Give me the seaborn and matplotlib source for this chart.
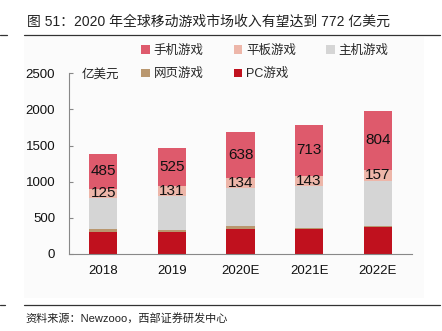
import numpy as np
import pandas as pd
import matplotlib
matplotlib.use("Agg")
import matplotlib.pyplot as plt
from matplotlib.patches import Patch, Rectangle
from matplotlib.lines import Line2D
import seaborn as sns

# ---- data ----
years = ["2018", "2019", "2020E", "2021E", "2022E"]
mobile = [485, 525, 638, 713, 804]      # 手机游戏
tablet = [125, 131, 134, 143, 157]      # 平板游戏
console = [435, 475, 530, 570, 625]     # 主机游戏
browser = [37, 30, 38, 20, 18]          # 网页游戏
pc = [304, 300, 345, 345, 369]          # PC游戏
series_names = ["手机游戏", "平板游戏", "主机游戏", "网页游戏", "PC游戏"]
yticks = [0, 500, 1000, 1500, 2000, 2500]

colors = {"手机游戏": "#DE5A6C", "平板游戏": "#EDB6A9", "主机游戏": "#D5D5D5",
          "网页游戏": "#B9976F", "PC游戏": "#C0111E"}

sns.set_theme(style="white")
plt.rcParams["font.family"] = ["Liberation Sans", "Noto Sans CJK SC", "DejaVu Sans"]
cjk = ["Noto Sans CJK SC", "DejaVu Sans"]
mixed = ["Liberation Sans", "Noto Sans CJK SC", "DejaVu Sans"]

fig = plt.figure(figsize=(4.42, 3.31), dpi=100)
fig.patch.set_facecolor("white")
# faint panel
fig.add_artist(Rectangle((24 / 442, 1 - 298 / 331), 400 / 442, 261 / 331,
                         transform=fig.transFigure, facecolor="#fbfbfb",
                         edgecolor="none", zorder=-10))

ax = fig.add_axes([69 / 442, 1 - 254 / 331, 343 / 442, (254 - 73.3) / 331])
ax.set_facecolor("none")
ax.set_zorder(2)

# stacked via cumulative sums, bottom-up order: PC, 网页, 主机, 平板, 手机
layers = [("PC游戏", pc), ("网页游戏", browser), ("主机游戏", console),
          ("平板游戏", tablet), ("手机游戏", mobile)]
cum = np.zeros(len(years))
cums = []
for name, vals in layers:
    bottom = cum.copy()
    cum = cum + np.array(vals)
    cums.append((name, bottom, cum.copy()))

for name, bottom, top in reversed(cums):
    df = pd.DataFrame({"year": years, "value": top})
    sns.barplot(data=df, x="year", y="value", color=colors[name], width=0.41,
                ax=ax, saturation=1, linewidth=0, zorder=2)

# labels for 平板 and 手机
for name, bottom, top in cums:
    if name in ("平板游戏", "手机游戏"):
        for i in range(len(years)):
            ax.text(i, (bottom[i] + top[i]) / 2, f"{int(round(top[i] - bottom[i]))}",
                    ha="center", va="center", fontsize=11, color="#111111",
                    family=mixed, zorder=5)

ax.set_ylim(0, 2500)
ax.set_xlim(-0.5, len(years) - 0.5)
ax.set_yticks(yticks)
ax.set_yticklabels([str(v) for v in yticks], fontsize=9.5, color="#111111")
ax.set_xticks(range(len(years)))
ax.set_xticklabels(years, fontsize=9.5, color="#111111")
ax.set_xlabel("")
ax.set_ylabel("")
ax.set_xticks(np.arange(-0.5, len(years), 1.0), minor=True)
ax.tick_params(axis="x", which="major", length=0, pad=8)
ax.tick_params(axis="x", which="minor", direction="in", length=3, color="#888888", width=0.8)
ax.tick_params(axis="y", which="major", direction="in", length=3, color="#888888",
               width=0.8, pad=10, left=True)
for s in ["top", "right"]:
    ax.spines[s].set_visible(False)
for s in ["left", "bottom"]:
    ax.spines[s].set_color("#888888")
    ax.spines[s].set_linewidth(0.8)

fig.text(82 / 442, 1 - 74 / 331, "亿美元", fontsize=9, family=cjk, va="center",
         ha="left", color="#222222")

# legend (row-major look with ncol=3)
order = ["手机游戏", "网页游戏", "平板游戏", "PC游戏", "主机游戏"]
handles = [Patch(facecolor=colors[n], edgecolor="none") for n in order]
fig.legend(handles, order, ncol=3, loc="upper left",
           bbox_to_anchor=(136 / 442, 1 - 40 / 331), frameon=False,
           prop={"family": mixed, "size": 9}, handlelength=0.7, handleheight=0.7,
           handletextpad=0.3, columnspacing=2.4, labelspacing=0.9, borderaxespad=0)

# title, rules, source
fig.text(27 / 442, 1 - 22 / 331, "图 51：2020 年全球移动游戏市场收入有望达到 772 亿美元",
         fontsize=10, family=mixed, va="center", ha="left", color="#222222")
fig.add_artist(Line2D([24 / 442, 440 / 442], [1 - 35 / 331] * 2, color="#333333",
                      linewidth=0.9, transform=fig.transFigure))
fig.add_artist(Line2D([0, 7 / 442], [1 - 35 / 331] * 2, color="#333333",
                      linewidth=0.9, transform=fig.transFigure))
fig.add_artist(Line2D([24 / 442, 440 / 442], [1 - 305 / 331] * 2, color="#333333",
                      linewidth=0.9, transform=fig.transFigure))
fig.add_artist(Line2D([0, 5 / 442], [1 - 305 / 331] * 2, color="#333333",
                      linewidth=0.9, transform=fig.transFigure))
fig.text(25 / 442, 1 - 318 / 331, "资料来源：Newzooo，西部证券研发中心",
         fontsize=8, family=mixed, va="center", ha="left", color="#222222")

fig.savefig("out.png", dpi=100)
